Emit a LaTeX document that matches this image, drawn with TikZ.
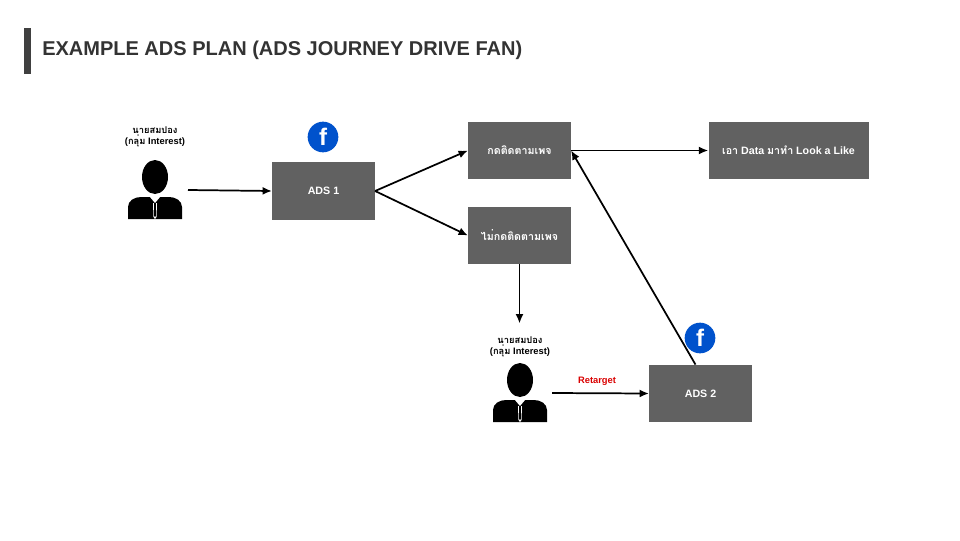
\documentclass[tikz,border=0pt]{standalone}
\usepackage{fontspec}
\usetikzlibrary{arrows.meta}
\setmainfont{Liberation Sans}
\newfontfamily\thai{Loma}[Extension=.otf,UprightFont=*,BoldFont=*-Bold]
\begin{document}
\begin{tikzpicture}[x=0.75pt,y=-0.75pt,
  box/.style={draw=none,fill=black!62,text=white,font=\bfseries\fontsize{8}{10}\selectfont,minimum width=77pt,minimum height=43pt,inner sep=0pt},
  arr/.style={-{Latex[length=7pt,width=6pt]},line width=1.3pt},
  lbl/.style={font=\bfseries\fontsize{7}{8.5}\selectfont,align=center}]
\useasboundingbox (0,0) rectangle (960,540);
\fill[black!75] (24,28) rectangle (31,74);
\node[anchor=west,font=\bfseries\fontsize{15}{17}\selectfont,text=black!80,inner sep=0pt] (title) at (42,50) {EXAMPLE ADS PLAN (ADS JOURNEY DRIVE FAN)};
\newcommand{\person}[2]{%
  \begin{scope}[shift={(#1)}]
  \fill[black] (0,-14) ellipse (13 and 17);
  \fill[black] (-27,28) -- (-27,16) to[out=90,in=180] (-14,6) -- (14,6) to[out=0,in=90] (27,16) -- (27,28) -- cycle;
  \fill[white] (-5,6) -- (0,12) -- (5,6) -- cycle;
  \fill[white] (-2,12) -- (2,12) -- (1.5,26) -- (0,28) -- (-1.5,26) -- cycle;
  \fill[black] (-1,12) -- (1,12) -- (0.8,25) -- (0,26) -- (-0.8,25) -- cycle;
  \end{scope}
  \coordinate (#2) at (#1);}
\newcommand{\fb}[2]{%
  \node[circle,fill=blue!60!cyan!80!black,minimum size=23pt,inner sep=0pt,text=white,font=\bfseries\fontsize{18}{18}\selectfont] (#2) at (#1) {f};}
\person{155,191}{p1}
\node[lbl] (l1) at (155,137) {{\thai นายสมปอง}\\({\thai กลุ่ม} Interest)};
\node[box] (a1) at (323.5,191) {ADS 1};
\fb{323,137}{fb1}
\node[box] (b1) at (519.5,150.5) {\thai กดติดตามเพจ};
\node[box] (b2) at (519.5,235.5) {\thai ไม่กดติดตามเพจ};
\node[box,minimum width=120pt] (b3) at (788.5,150.5) {{\thai เอา} Data {\thai มาทำ} Look a Like};
\node[box] (a2) at (700.5,393.5) {ADS 2};
\fb{700,338}{fb2}
\person{520,394}{p2}
\node[lbl] (l2) at (520,347) {{\thai นายสมปอง}\\({\thai กลุ่ม} Interest)};
\node[font=\bfseries\fontsize{7}{8}\selectfont,text=red!85!black] (rt) at (597,381) {Retarget};
\draw[arr] (188,190) -- (a1.west);
\draw[arr] (a1.east) -- (b1.west);
\draw[arr] (a1.east) -- (b2.west);
\draw[arr] (b1.east) -- (b3.west);
\draw[arr] (b2.south) -- ++(0,59);
\draw[arr] (552,393) -- (a2.west);
\draw[arr] (a2.north) ++(-5,0) -- (b1.east);
\end{tikzpicture}
\end{document}
